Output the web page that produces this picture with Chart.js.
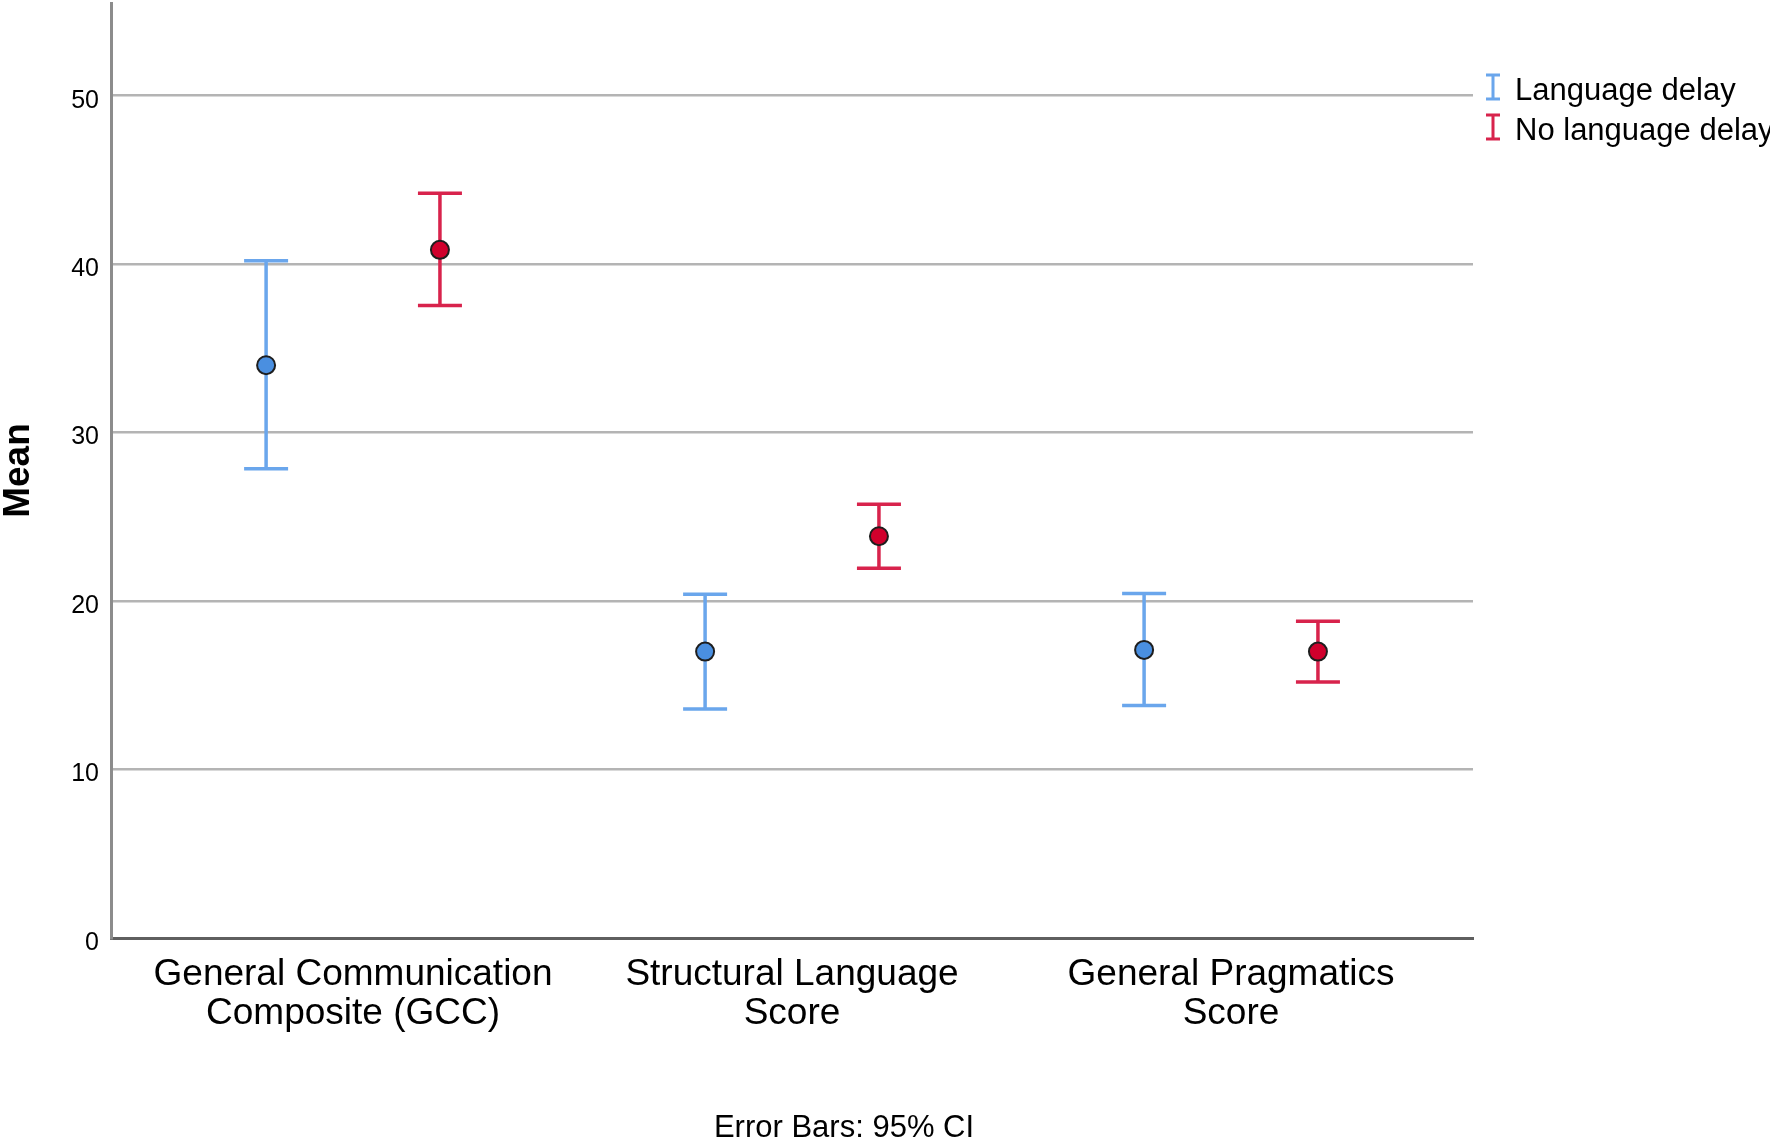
<!DOCTYPE html>
<html lang="en">
<head>
<meta charset="UTF-8">
<title>Mean with 95% CI</title>
<script src="https://cdn.jsdelivr.net/npm/chart.js"></script>
<style>
  body { margin: 0; background: #fff; }
  canvas { display: block; }
</style>
</head>
<body>
<canvas id="ciChart" width="1770" height="1143"></canvas>
<script>
// x axis categories, one string per label line
const categories = [
  ['General Communication', 'Composite (GCC)'],
  ['Structural Language', 'Score'],
  ['General Pragmatics', 'Score']
];
const groups = ['Language delay', 'No language delay'];

// means and 95% CI bounds
const delayMean  = [34.0, 17.0, 17.1];
const delayLower = [27.85, 13.6, 13.8];
const delayUpper = [40.2, 20.4, 20.45];

const noDelayMean  = [40.85, 23.85, 17.0];
const noDelayLower = [37.55, 21.95, 15.2];
const noDelayUpper = [44.2, 25.75, 18.8];

const yTicks = [0, 10, 20, 30, 40, 50];
const note = 'Error Bars: 95% CI';

const DODGE = 0.198;
const FONT = '"Liberation Sans", Arial, sans-serif';

function points(means, lo, hi, shift) {
  return means.map((m, i) => ({ x: i + shift, y: m, lo: lo[i], hi: hi[i] }));
}

function noPadding(s) {
  s.paddingTop = 0;
  s.paddingBottom = 0;
  s.paddingLeft = 0;
  s.paddingRight = 0;
}

// whiskers with caps, drawn under the markers
const errorBars = {
  id: 'errorBars',
  beforeDatasetsDraw(chart) {
    const { ctx, scales: { x, y } } = chart;
    chart.data.datasets.forEach(ds => {
      ctx.save();
      ctx.strokeStyle = ds.barColor;
      ctx.lineWidth = 3.5;
      ds.data.forEach(p => {
        const px = x.getPixelForValue(p.x);
        const top = y.getPixelForValue(p.hi);
        const bot = y.getPixelForValue(p.lo);
        ctx.beginPath();
        ctx.moveTo(px, top); ctx.lineTo(px, bot);
        ctx.moveTo(px - 22, top); ctx.lineTo(px + 22, top);
        ctx.moveTo(px - 22, bot); ctx.lineTo(px + 22, bot);
        ctx.stroke();
      });
      ctx.restore();
    });
  }
};

// legend at the top right and the footnote
const sideLegend = {
  id: 'sideLegend',
  afterDraw(chart) {
    const { ctx } = chart;
    ctx.save();
    ctx.font = '31px ' + FONT;
    ctx.textBaseline = 'alphabetic';
    chart.data.datasets.forEach((ds, i) => {
      const base = 100 + i * 40;
      const cx = 1493;
      ctx.strokeStyle = ds.barColor;
      ctx.lineWidth = 3;
      ctx.beginPath();
      ctx.moveTo(cx, base - 25); ctx.lineTo(cx, base - 1);
      ctx.moveTo(cx - 7, base - 25); ctx.lineTo(cx + 7, base - 25);
      ctx.moveTo(cx - 7, base - 1); ctx.lineTo(cx + 7, base - 1);
      ctx.stroke();
      ctx.fillStyle = '#000';
      ctx.fillText(ds.label, 1515, base);
    });
    ctx.textAlign = 'center';
    ctx.fillText(note, 844, 1137);
    ctx.restore();
  }
};

Chart.defaults.font.family = FONT;

new Chart(document.getElementById('ciChart'), {
  type: 'scatter',
  data: {
    datasets: [
      {
        label: groups[0],
        data: points(delayMean, delayLower, delayUpper, -DODGE),
        backgroundColor: '#4a8fe0',
        borderColor: '#1e1e1e',
        borderWidth: 2,
        pointRadius: 9,
        barColor: '#6aa6ec'
      },
      {
        label: groups[1],
        data: points(noDelayMean, noDelayLower, noDelayUpper, DODGE),
        backgroundColor: '#d0002c',
        borderColor: '#1e1e1e',
        borderWidth: 2,
        pointRadius: 9,
        barColor: '#d8234c'
      }
    ]
  },
  options: {
    responsive: false,
    devicePixelRatio: 1,
    animation: false,
    events: [],
    layout: { autoPadding: false, padding: { top: 3, right: 297, left: 0, bottom: 0 } },
    scales: {
      x: {
        type: 'linear',
        min: -0.5513,
        max: 2.5512,
        afterBuildTicks: s => { s.ticks = categories.map((c, i) => ({ value: i })); },
        afterFit: s => { s.height = 205; noPadding(s); },
        grid: { display: false, drawTicks: false },
        border: { color: '#5f5f5f', width: 3 },
        ticks: {
          callback: (v, i) => categories[i],
          font: { size: 37, lineHeight: 1.06 },
          color: '#000',
          padding: 17,
          maxRotation: 0,
          autoSkip: false
        }
      },
      y: {
        min: 0,
        max: 55.5,
        afterBuildTicks: s => { s.ticks = yTicks.map(v => ({ value: v })); },
        afterFit: s => { s.width = 111; noPadding(s); },
        grid: { color: '#b4b4b4', lineWidth: 2.5, drawTicks: false },
        border: { color: '#8c8c8c', width: 3 },
        ticks: { font: { size: 25 }, color: '#000', padding: 12, labelOffset: 5 },
        title: {
          display: true,
          text: 'Mean',
          font: { size: 37, weight: 'bold', lineHeight: 1 },
          color: '#000',
          padding: 0
        }
      }
    },
    plugins: {
      legend: { display: false },
      tooltip: { enabled: false }
    }
  },
  plugins: [errorBars, sideLegend]
});
</script>
</body>
</html>
